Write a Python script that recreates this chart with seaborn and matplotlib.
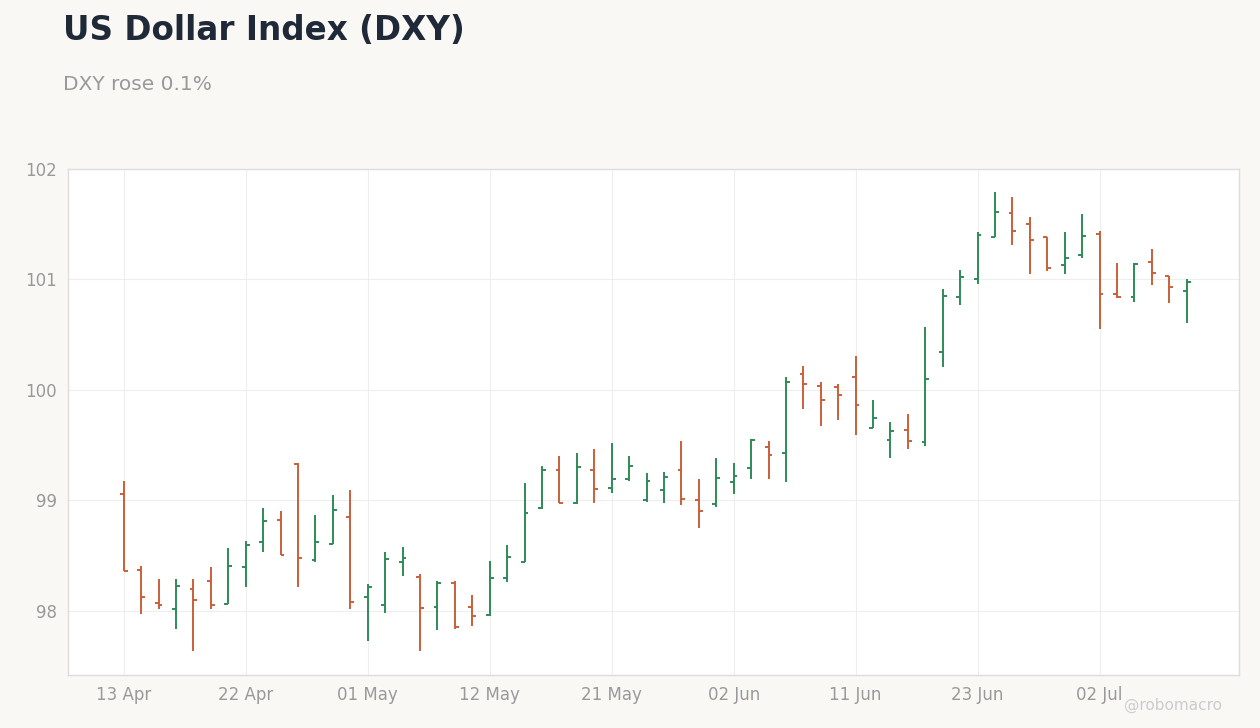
import matplotlib
matplotlib.use("Agg")
import matplotlib.pyplot as plt
import seaborn as sns
import pandas as pd

opens  = [99.06,98.37,98.07,98.02,98.20,98.27,98.06,98.40,98.62,98.82,99.33,98.46,98.61,98.85,98.13,98.05,98.44,98.31,98.04,98.25,98.04,97.96,98.30,98.44,98.93,99.28,98.98,99.28,99.11,99.19,99.00,99.09,99.28,99.00,98.97,99.17,99.29,99.48,99.43,100.14,100.04,100.03,100.12,99.66,99.55,99.64,99.53,100.34,100.84,101.00,101.38,101.60,101.50,101.38,101.13,101.22,101.41,100.87,100.84,101.16,101.03,100.90]
highs  = [99.18,98.41,98.29,98.29,98.29,98.40,98.57,98.63,98.93,98.90,99.34,98.87,99.05,99.09,98.24,98.53,98.58,98.33,98.27,98.27,98.14,98.45,98.60,99.16,99.31,99.40,99.43,99.47,99.52,99.40,99.25,99.26,99.54,99.19,99.38,99.34,99.56,99.54,100.12,100.22,100.07,100.05,100.31,99.91,99.71,99.78,100.57,100.91,101.09,101.43,101.79,101.75,101.57,101.38,101.43,101.59,101.44,101.15,101.15,101.28,101.03,101.00]
lows   = [98.36,97.97,98.02,97.84,97.64,98.02,98.06,98.22,98.53,98.51,98.22,98.44,98.61,98.02,97.73,97.98,98.32,97.64,97.83,97.84,97.86,97.95,98.26,98.44,98.92,98.98,98.97,98.98,99.07,99.18,98.99,98.98,98.96,98.75,98.94,99.06,99.19,99.19,99.17,99.83,99.67,99.73,99.59,99.66,99.38,99.47,99.49,100.21,100.77,100.96,101.38,101.31,101.05,101.08,101.05,101.19,100.55,100.83,100.80,100.95,100.79,100.61]
closes = [98.36,98.13,98.05,98.23,98.10,98.05,98.41,98.60,98.81,98.51,98.48,98.62,98.91,98.08,98.22,98.47,98.48,98.03,98.25,97.85,97.95,98.30,98.49,98.89,99.28,98.98,99.30,99.10,99.19,99.31,99.18,99.21,99.01,98.90,99.20,99.22,99.55,99.41,100.07,100.05,99.91,99.95,99.86,99.75,99.63,99.54,100.10,100.85,101.02,101.40,101.61,101.44,101.36,101.10,101.19,101.39,100.87,100.84,101.14,101.06,100.93,100.98]
tick_labels = ["13 Apr","22 Apr","01 May","12 May","21 May","02 Jun","11 Jun","23 Jun","02 Jul"]
tick_step = 7

df = pd.DataFrame({"open":opens,"high":highs,"low":lows,"close":closes})
df["idx"] = range(len(df))
GREEN, RED = "#2e8b57", "#c8603a"
df["color"] = [GREEN if c >= o else RED for o, c in zip(df.open, df.close)]

sns.set_theme(style="white")
plt.rcParams['font.family'] = ['DejaVu Sans']
fig = plt.figure(figsize=(12.6, 7.28), dpi=100, facecolor="#f9f8f5")
ax = fig.add_axes([68/1260, 1-675/728, (1239-68)/1260, (675-169)/728])
ax.set_facecolor("white")

w = 0.22
ax.vlines(df.idx, df.low, df.high, colors=df.color, lw=1.4)
ax.hlines(df.open, df.idx - w, df.idx, colors=df.color, lw=1.4)
ax.hlines(df.close, df.idx, df.idx + w, colors=df.color, lw=1.4)

ax.set_xlim(-3.2, 64.0)
ax.set_ylim(97.42, 102)
ax.set_yticks([98, 99, 100, 101, 102])
ax.set_xticks([i*tick_step for i in range(len(tick_labels))])
ax.set_xticklabels(tick_labels)
ax.grid(True, color="#eeeeee", lw=0.8)
ax.tick_params(colors="#999999", labelsize=12, length=0, pad=8)
for s in ax.spines.values():
    s.set_color("#dddddd"); s.set_linewidth(1)

fig.text(63/1260, 1-31/728, "US Dollar Index (DXY)", fontsize=23.5, fontweight="bold", color="#1f2937", va="center")
fig.text(63/1260, 1-85/728, "DXY rose 0.1%", fontsize=14.5, color="#999999", va="center")
fig.text(1222/1260, 1-705/728, "@robomacro", fontsize=11, color="#cccccc", ha="right", va="center")
fig.savefig("out.png", dpi=100, facecolor=fig.get_facecolor())
